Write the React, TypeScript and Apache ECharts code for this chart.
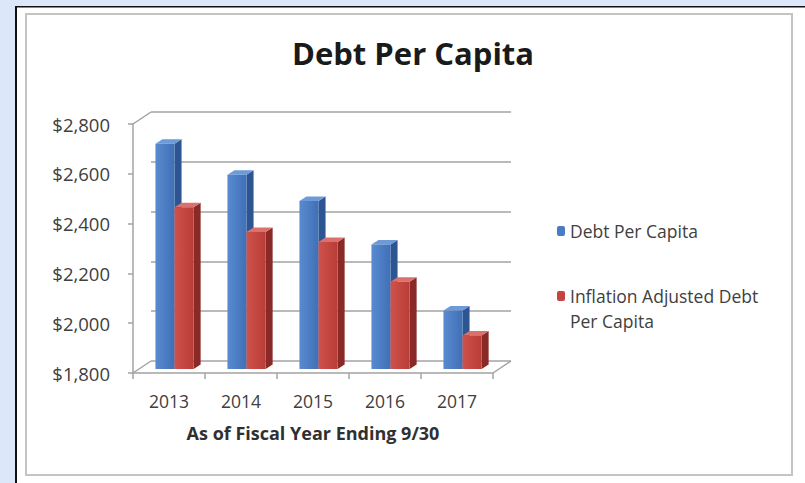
import React, { useEffect, useRef } from "react";
import * as echarts from "echarts";

const categories = ["2013", "2014", "2015", "2016", "2017"];
const debtPerCapita = [2705, 2580, 2475, 2300, 2035];
const inflationAdjusted = [2450, 2350, 2310, 2150, 1935];
const yMin = 1800;
const yMax = 2800;
const yStep = 200;
const seriesNames = ["Debt Per Capita", "Inflation Adjusted Debt Per Capita"];
const legendLines = ["Inflation Adjusted Debt", "Per Capita"];
const titleText = "Debt Per Capita";
const xAxisTitle = "As of Fiscal Year Ending 9/30";

const FONT = "'Open Sans', 'Noto Sans', sans-serif";

// front plane of the 3D plot
const FL = 133, FT = 124, FW = 360, FH = 249;
// depth of the walls
const DX = 18, DY = -12;

const palette = [
  { front: ["#5a8ad0", "#3f70b6"], side: "#2c5592", top: "#6d9ad8" },
  { front: ["#d0524c", "#b83c37"], side: "#8a2926", top: "#da716c" },
];

function makeRender(seriesIdx: number) {
  return (params: any, api: any) => {
    const cat = api.value(0);
    const v = api.value(1);
    const top = api.coord([cat, v]);
    const base = api.coord([cat, yMin]);
    const band = api.size([1, 0])[0];
    const k = band / 71.7;
    const off = seriesIdx === 0 ? -13.5 * k : 5.5 * k;
    const w = 19 * k;
    const ddx = 7 * k;
    const ddy = -4.5;
    const x0 = base[0] + off;
    const y0 = base[1] - 4;
    const y1 = top[1] - 4;
    const c = palette[seriesIdx];
    return {
      type: "group",
      children: [
        {
          type: "polygon",
          shape: { points: [[x0 + w, y1], [x0 + w + ddx, y1 + ddy], [x0 + w + ddx, y0 + ddy], [x0 + w, y0]] },
          style: { fill: c.side },
        },
        {
          type: "polygon",
          shape: { points: [[x0, y1], [x0 + ddx, y1 + ddy], [x0 + w + ddx, y1 + ddy], [x0 + w, y1]] },
          style: { fill: c.top },
        },
        {
          type: "rect",
          shape: { x: x0, y: y1, width: w, height: y0 - y1 },
          style: {
            fill: new echarts.graphic.LinearGradient(0, 0, 1, 0, [
              { offset: 0, color: c.front[0] },
              { offset: 1, color: c.front[1] },
            ]),
          },
        },
      ],
    };
  };
}

export default function App() {
  const ref = useRef<HTMLDivElement>(null);
  useEffect(() => {
    document.body.style.margin = "0";
    const chart = echarts.init(ref.current!, null, { renderer: "svg" });
    const lineStyle = { color: "#a3a3a3", width: 1.5 };
    const legendText = { fontFamily: FONT, fontSize: 17.5, color: "#404040" };
    chart.setOption({
      animation: false,
      backgroundColor: "#ffffff",
      title: {
        text: titleText,
        left: 408,
        top: 32,
        textAlign: "center",
        textStyle: { fontFamily: FONT, fontSize: 31, fontWeight: "bold", color: "#1a1a1a" },
      },
      legend: [
        {
          data: [seriesNames[0]],
          left: 552,
          top: 217,
          orient: "vertical",
          itemWidth: 8,
          itemHeight: 10,
          textStyle: legendText,
        },
        {
          data: [seriesNames[1]],
          left: 552,
          top: 282,
          orient: "vertical",
          itemWidth: 8,
          itemHeight: 10,
          formatter: () => legendLines[0],
          textStyle: legendText,
        },
      ],
      grid: [
        { left: FL, top: FT, width: FW, height: FH },
        { left: FL + DX, top: FT + DY, width: FW, height: FH },
      ],
      xAxis: [
        {
          type: "category",
          gridIndex: 0,
          data: categories,
          axisLine: { lineStyle },
          axisTick: { show: true, length: 6, lineStyle },
          axisLabel: { margin: 19, fontFamily: FONT, fontSize: 17.5, color: "#404040" },
          name: xAxisTitle,
          nameLocation: "middle",
          nameGap: 51,
          nameTextStyle: { fontFamily: FONT, fontSize: 18, fontWeight: "bold", color: "#303030" },
        },
        {
          type: "category",
          gridIndex: 1,
          data: categories,
          show: false,
        },
      ],
      yAxis: [
        {
          type: "value",
          gridIndex: 0,
          min: yMin,
          max: yMax,
          interval: yStep,
          axisLine: { show: true, lineStyle },
          axisTick: { show: true, length: 5, lineStyle },
          splitLine: { show: false },
          axisLabel: {
            margin: 23,
            padding: [5, 0, 0, 0],
            fontFamily: FONT,
            fontSize: 18.5,
            color: "#404040",
            formatter: (v: number) => "$" + v.toLocaleString("en-US"),
          },
        },
        {
          type: "value",
          gridIndex: 1,
          min: yMin,
          max: yMax,
          interval: yStep,
          axisLine: { show: false },
          axisTick: { show: false },
          axisLabel: { show: false },
          splitLine: { show: true, lineStyle },
        },
      ],
      graphic: [
        { type: "rect", z: -10, shape: { x: 0, y: 0, width: 15, height: 483 }, style: { fill: "#dce8fa" } },
        { type: "rect", z: -10, shape: { x: 0, y: 0, width: 805, height: 6 }, style: { fill: "#dce8fa" } },
        { type: "rect", z: -9, shape: { x: 15, y: 6, width: 2, height: 477 }, style: { fill: "#111111" } },
        { type: "rect", z: -9, shape: { x: 15, y: 6, width: 790, height: 1.5 }, style: { fill: "#111111" } },
        {
          type: "rect",
          z: -9,
          shape: { x: 26, y: 14, width: 766, height: 461 },
          style: { fill: "none", stroke: "#c4c4c4", lineWidth: 2 },
        },
        { type: "line", z: -5, shape: { x1: FL, y1: FT, x2: FL + DX, y2: FT + DY }, style: { stroke: "#a3a3a3", lineWidth: 1.5 } },
        { type: "line", z: -5, shape: { x1: FL, y1: FT + FH, x2: FL + DX, y2: FT + FH + DY }, style: { stroke: "#a3a3a3", lineWidth: 1.5 } },
        { type: "line", z: -5, shape: { x1: FL + FW, y1: FT + FH, x2: FL + FW + DX, y2: FT + FH + DY }, style: { stroke: "#a3a3a3", lineWidth: 1.5 } },
        {
          type: "text",
          left: 570,
          top: 312,
          style: { text: legendLines[1], fontFamily: FONT, fontSize: 17.5, fill: "#404040" },
        },
      ],
      series: [
        {
          name: seriesNames[0],
          type: "custom",
          xAxisIndex: 0,
          yAxisIndex: 0,
          itemStyle: { color: "#4a7cc4" },
          renderItem: makeRender(0),
          encode: { x: 0, y: 1 },
          data: debtPerCapita.map((v, i) => [i, v]),
          z: 3,
        },
        {
          name: seriesNames[1],
          type: "custom",
          xAxisIndex: 0,
          yAxisIndex: 0,
          itemStyle: { color: "#c4443f" },
          renderItem: makeRender(1),
          encode: { x: 0, y: 1 },
          data: inflationAdjusted.map((v, i) => [i, v]),
          z: 4,
        },
      ],
    });
    return () => chart.dispose();
  }, []);
  return <div ref={ref} style={{ position: "fixed", left: 0, top: 0, width: 805, height: 483 }} />;
}
